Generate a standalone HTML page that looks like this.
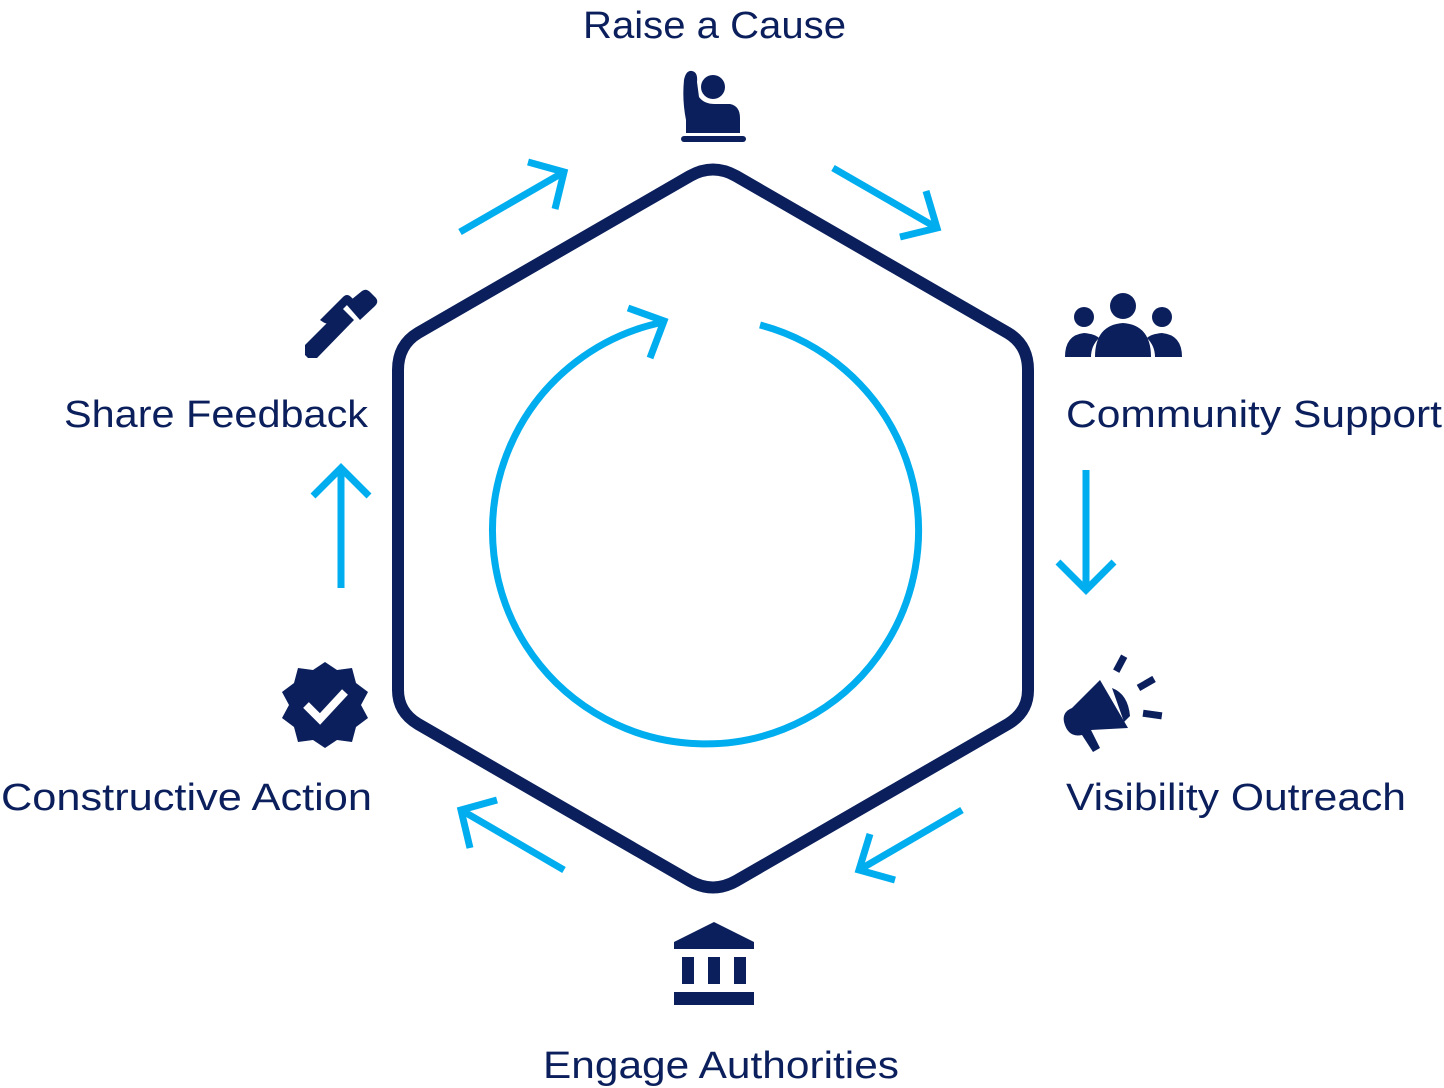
<!DOCTYPE html>
<html><head><meta charset="utf-8"><style>
html,body{margin:0;padding:0;background:#fff;}
svg{display:block}
text{font-family:"Liberation Sans",sans-serif;font-size:38px;fill:#0b1f5c}
</style></head><body>
<svg width="1444" height="1088" viewBox="0 0 1444 1088">
<path d="M690,176 Q713,163 736,176 L1008,333 Q1028,345 1028,370 L1028,690 Q1028,712 1008,724 L736,881 Q713,894 690,881 L418,724 Q398,712 398,690 L398,370 Q398,345 418,333 Z" fill="none" stroke="#0b1f5c" stroke-width="12" stroke-linejoin="round"/>
<g fill="none" stroke="#00aeef" stroke-width="7" stroke-linecap="butt">
<path d="M760,325 A213,213 0 1 1 664,322"/>
<polyline points="628,308 664,321 650,358"/>
<line x1="460" y1="232" x2="564" y2="172"/><polyline points="528,162 564,172 555,209"/>
<line x1="833" y1="168" x2="937" y2="228"/><polyline points="926,191 937,228 900,237"/>
<line x1="1086" y1="470" x2="1086" y2="589"/><polyline points="1058,562 1086,590 1114,562"/>
<line x1="962" y1="810" x2="859" y2="870"/><polyline points="870,834 859,870 895,880"/>
<line x1="564" y1="870" x2="461" y2="810"/><polyline points="470,848 461,810 497,800"/>
<line x1="341" y1="588" x2="341" y2="469"/><polyline points="313,496 341,468 369,496"/>
</g>
<text x="583" y="38" textLength="263" lengthAdjust="spacingAndGlyphs">Raise a Cause</text>
<text x="1066" y="427" textLength="376" lengthAdjust="spacingAndGlyphs">Community Support</text>
<text x="1066" y="810" textLength="340" lengthAdjust="spacingAndGlyphs">Visibility Outreach</text>
<text x="543" y="1078" textLength="356" lengthAdjust="spacingAndGlyphs">Engage Authorities</text>
<text x="1" y="810" textLength="371" lengthAdjust="spacingAndGlyphs">Constructive Action</text>
<text x="64" y="427" textLength="304" lengthAdjust="spacingAndGlyphs">Share Feedback</text>
<g fill="#0b1f5c">
<circle cx="713" cy="87" r="12"/>
<path d="M684,80 Q686,70 692,71 Q698,72 697,82 L699,97 Q704,104 715,104 L730,104 Q740,106 740,118 L740,133 L700,133 L700,120 Q701,114 707,114 L722,114 Q722,119 717,119 L709,119 Q706,120 706,124 L706,133 L686,133 L686,120 Q682,100 684,80Z"/>
<rect x="681" y="136" width="65" height="6" rx="3"/>
<circle cx="1123" cy="306" r="13"/>
<path d="M1095,357 Q1095,325 1123,323 Q1151,325 1151,357Z"/>
<circle cx="1084" cy="317" r="10"/>
<path d="M1065,357 Q1065,335 1084,333 Q1095,334 1099,338 Q1091,346 1091,357Z"/>
<circle cx="1162" cy="317" r="10"/>
<path d="M1182,357 Q1182,335 1162,333 Q1151,334 1147,338 Q1155,346 1155,357Z"/>
<path d="M1064,722 Q1062,712 1072,708 L1100,680 L1128,728 L1091,730 L1100,748 L1093,752 L1082,735 Q1068,738 1064,722Z"/>
<path d="M1112,688 Q1128,694 1130,716 L1124,722Z"/>
<rect x="1117" y="655" width="7" height="17" transform="rotate(28 1120 663)"/>
<rect x="1137" y="680" width="18" height="7" transform="rotate(-30 1146 683)"/>
<rect x="1143" y="711" width="19" height="7" transform="rotate(8 1152 714)"/>
<path d="M674,942 L714,922 L754,942 L754,949 L674,949Z"/>
<rect x="682" y="957" width="12" height="27"/>
<rect x="708" y="957" width="12" height="27"/>
<rect x="734" y="957" width="12" height="27"/>
<rect x="674" y="992" width="80" height="13"/>
<polygon points="325,662 337,670 352,668 356,683 368,692 361,705 368,718 356,727 352,742 337,740 325,748 313,740 298,742 294,727 282,718 289,705 282,692 294,683 298,668 313,670"/>
<polyline points="306,705 320,719 345,692" fill="none" stroke="#fff" stroke-width="8"/>
<path d="M305,355 L305,345 L342,308 L354,320 L317,358 L308,358Z"/>
<path d="M346,304 L362,291 Q366,288 370,292 L376,298 Q379,302 375,306 L360,320Z"/>
<path d="M320,320 L343,297 Q347,293 351,297 L353,299 L330,322 Q327,325 323,322Z"/>
</g>
</svg>
</body></html>
